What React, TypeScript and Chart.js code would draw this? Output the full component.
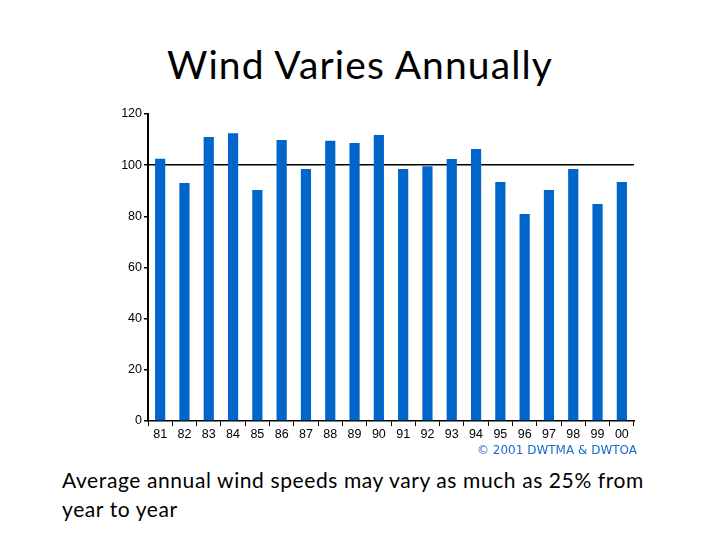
import React, { useEffect, useRef } from "react";
import { Chart, registerables } from "chart.js";

Chart.register(...registerables);

const years = ["81", "82", "83", "84", "85", "86", "87", "88", "89", "90", "91", "92", "93", "94", "95", "96", "97", "98", "99", "00"];
const windIndex = [102.5, 93, 111, 112.5, 90.3, 109.8, 98.5, 109.5, 108.7, 111.8, 98.5, 99.6, 102.4, 106.3, 93.4, 80.9, 90.3, 98.5, 84.8, 93.4];
const yTicks = [0, 20, 40, 60, 80, 100, 120];

const titleText = "Wind Varies Annually";
const captionLines = ["Average annual wind speeds may vary as much as 25% from", "year to year"];
const sourceText = "\u00A9 2001 DWTMA & DWTOA";

export default function App() {
  const ref = useRef<HTMLCanvasElement | null>(null);

  useEffect(() => {
    if (!ref.current) return;
    const chart = new Chart(ref.current, {
      type: "bar",
      data: {
        labels: years,
        datasets: [
          {
            data: windIndex,
            backgroundColor: "#0066cc",
            borderWidth: 0,
            barPercentage: 0.42,
            categoryPercentage: 1,
          },
        ],
      },
      options: {
        animation: false,
        responsive: false,
        maintainAspectRatio: false,
        devicePixelRatio: 1,
        layout: { padding: { top: 14, right: 9, left: 0, bottom: 0 } },
        plugins: { legend: { display: false }, tooltip: { enabled: false }, title: { display: false } },
        scales: {
          x: {
            type: "category",
            grid: {
              offset: true,
              drawOnChartArea: false,
              drawTicks: true,
              tickLength: 5,
              color: "#000",
              tickColor: "#000",
              lineWidth: 1,
            },
            border: { display: true, color: "#000", width: 1.5 },
            ticks: {
              color: "#000",
              font: { family: "'Liberation Sans', Arial, sans-serif", size: 12.5 },
              padding: 1,
              maxRotation: 0,
              autoSkip: false,
            },
            afterFit: (scale: any) => {
              scale.height = 24;
            },
          },
          y: {
            min: 0,
            max: 120,
            afterBuildTicks: (scale: any) => {
              scale.ticks = yTicks.map((v) => ({ value: v }));
            },
            grid: {
              drawOnChartArea: true,
              tickLength: 4,
              lineWidth: 1.5,
              color: (ctx: any) => (ctx.tick && ctx.tick.value === 100 ? "#000" : "rgba(0,0,0,0)"),
              tickColor: "#000",
            },
            border: { display: true, color: "#000", width: 2 },
            ticks: {
              color: "#000",
              font: { family: "'Liberation Sans', Arial, sans-serif", size: 12.5 },
              padding: 2,
            },
            afterFit: (scale: any) => {
              scale.width = 48;
            },
          },
        },
      },
    });
    return () => chart.destroy();
  }, []);

  return (
    <div style={{ position: "fixed", left: 0, top: 0, width: 720, height: 540, background: "#fff", overflow: "hidden" }}>
      <div
        style={{
          position: "absolute",
          left: 0,
          top: 42,
          width: 720,
          textAlign: "center",
          fontFamily: "Lato, 'Open Sans', sans-serif",
          fontSize: 39,
          letterSpacing: "1.1px",
          lineHeight: "44px",
          color: "#000",
        }}
      >
        {titleText}
      </div>
      <canvas ref={ref} width={543} height={345} style={{ position: "absolute", left: 100, top: 100, width: 543, height: 345 }} />
      <div
        style={{
          position: "absolute",
          left: 477,
          top: 442,
          fontFamily: "'DejaVu Sans', sans-serif",
          fontSize: 12,
          lineHeight: "16px",
          color: "#1a6ad0",
          whiteSpace: "nowrap",
        }}
      >
        {sourceText}
      </div>
      <div
        style={{
          position: "absolute",
          left: 62,
          top: 465,
          fontFamily: "Lato, 'Open Sans', sans-serif",
          fontSize: 21,
          letterSpacing: "0.6px",
          lineHeight: "29px",
          color: "#000",
          whiteSpace: "nowrap",
        }}
      >
        {captionLines.map((l, i) => (
          <div key={i}>{l}</div>
        ))}
      </div>
    </div>
  );
}
